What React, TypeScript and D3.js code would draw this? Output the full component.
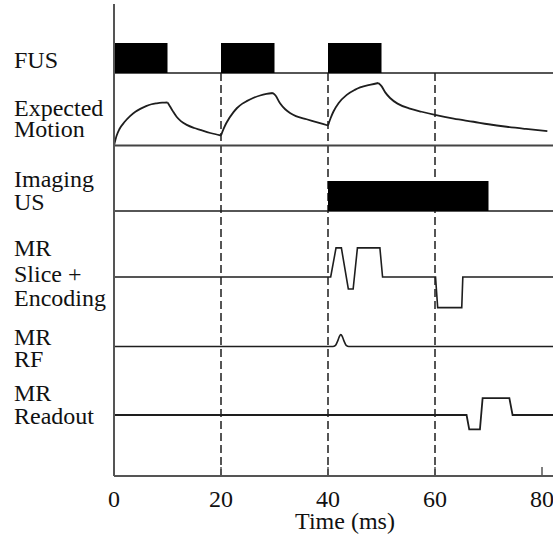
import React from "react";
import * as d3 from "d3";

// ---- data ----
const xTicks = [0, 20, 40, 60, 80];
const dashedTimes = [20, 40, 60];
const T_END = 82.1;

const fusPulses: [number, number][] = [[0, 10], [20, 30], [40, 50]];
const imagingPulses: [number, number][] = [[40, 70]];

// expected motion (normalized amplitude); corners mark kinks in the curve
const motion: [number, number][] = [
  [0, 0], [0.5, 0.16], [1, 0.26], [2, 0.38], [3, 0.47], [4, 0.54], [5, 0.59], [6, 0.63], [7, 0.66], [8, 0.675], [9, 0.685], [10, 0.69],
  [10.5, 0.62], [11, 0.55], [11.7, 0.46], [12.5, 0.39], [13.6, 0.33], [15, 0.28], [16.1, 0.25], [18, 0.2], [20, 0.16],
  [20.5, 0.27], [21, 0.36], [22.3, 0.53], [23, 0.6], [24, 0.67], [24.8, 0.71], [26, 0.76], [27.3, 0.8], [28.5, 0.825], [29.7, 0.84],
  [30.2, 0.8], [31, 0.68], [32, 0.58], [32.9, 0.52], [34, 0.47], [36, 0.42], [38, 0.37], [40, 0.32],
  [40.5, 0.44], [41, 0.54], [42, 0.68], [43.5, 0.81], [45, 0.89], [46, 0.93], [48, 0.975], [49.4, 1.0],
  [50, 0.95], [50.7, 0.85], [51.6, 0.76], [53, 0.67], [55.3, 0.59], [57.5, 0.54], [60, 0.49], [63.5, 0.43], [67.2, 0.38], [70, 0.34], [73.4, 0.3], [77, 0.265], [81, 0.23],
];
const motionCorners = [10, 20, 29.7, 40, 49.4];

const slice: [number, number][] = [
  [0, 0], [40.5, 0], [41.5, 0.97], [42.5, 0.97], [43.8, -0.4], [44.7, -0.4], [45.5, 0.97], [49.7, 0.97], [50.2, 0],
  [60.1, 0], [60.5, -1.02], [65.0, -1.02], [65.2, 0], [T_END, 0],
];
const rf: [number, number][] = [
  [0, 0], [40.9, 0], [41.4, 0.04], [41.8, 0.18], [42.1, 0.32], [42.4, 0.4], [42.7, 0.32], [43.0, 0.18], [43.4, 0.04], [43.9, 0], [T_END, 0],
];
const readout: [number, number][] = [
  [0, 0], [65.9, 0], [66.4, -0.48], [68.4, -0.48], [68.9, 0.56], [73.9, 0.56], [74.5, 0], [T_END, 0],
];

const labels: { lines: string[]; baselines: number[] }[] = [
  { lines: ["FUS"], baselines: [67.5] },
  { lines: ["Expected", "Motion"], baselines: [115.5, 136.5] },
  { lines: ["Imaging", "US"], baselines: [187, 210] },
  { lines: ["MR", "Slice +", "Encoding"], baselines: [256, 282, 306] },
  { lines: ["MR", "RF"], baselines: [345, 367] },
  { lines: ["MR", "Readout"], baselines: [401, 424] },
];

// ---- layout ----
const W = 553;
const H = 537;
const x = d3.scaleLinear().domain([0, 80]).range([114, 542]);
const axisY = 476;
const axisTop = 4;

const fusY = d3.scaleLinear().domain([0, 1]).range([73, 43]);
const motionY = d3.scaleLinear().domain([0, 1]).range([145.5, 83]);
const imagingY = d3.scaleLinear().domain([0, 1]).range([211, 181]);
const sliceY = d3.scaleLinear().domain([0, 1]).range([277, 247]);
const rfY = d3.scaleLinear().domain([0, 1]).range([346.5, 316.5]);
const readoutY = d3.scaleLinear().domain([0, 1]).range([415, 385]);

const FS = 24;
const INK = "#1e1e1e";
const textStyle: React.CSSProperties = { fontFamily: "'Liberation Serif', 'Times New Roman', serif", fontSize: FS };

function motionPath(): string {
  const segs: [number, number][][] = [];
  let cur: [number, number][] = [];
  motion.forEach((p) => {
    cur.push(p);
    if (motionCorners.includes(p[0])) {
      segs.push(cur);
      cur = [p];
    }
  });
  if (cur.length > 1) segs.push(cur);
  const line = d3
    .line<[number, number]>()
    .x((d) => x(d[0]))
    .y((d) => motionY(d[1]))
    .curve(d3.curveMonotoneX);
  return segs.map((s) => line(s) || "").join("");
}

function stepPath(data: [number, number][], y: d3.ScaleLinear<number, number>, curve = d3.curveLinear): string {
  return (
    d3
      .line<[number, number]>()
      .x((d) => x(d[0]))
      .y((d) => y(d[1]))
      .curve(curve)(data) || ""
  );
}

export default function App() {
  return (
    <svg
      width={W}
      height={H}
      viewBox={`0 0 ${W} ${H}`}
      style={{ position: "absolute", left: 0, top: 0, background: "#fff" }}
    >
      <rect x={0} y={0} width={W} height={H} fill="#fff" />

      {labels.map((l, i) =>
        l.lines.map((t, j) => (
          <text key={`${i}-${j}`} x={14} y={l.baselines[j]} style={textStyle} fill="#111">
            {t}
          </text>
        ))
      )}

      {dashedTimes.map((t) => (
        <line key={t} x1={x(t)} x2={x(t)} y1={fusY(0)} y2={axisY} stroke={INK} strokeWidth={1.5} strokeDasharray="8,4" />
      ))}

      <line x1={x(0)} x2={W} y1={fusY(0)} y2={fusY(0)} stroke={INK} strokeWidth={1.6} />
      {fusPulses.map(([a, b]) => (
        <rect key={a} x={x(a)} y={fusY(1)} width={x(b) - x(a)} height={fusY(0) - fusY(1)} fill="#000" />
      ))}

      <line x1={x(0)} x2={W} y1={motionY(0)} y2={motionY(0)} stroke="#444" strokeWidth={1.8} />
      <path d={motionPath()} fill="none" stroke={INK} strokeWidth={1.8} />

      <line x1={x(0)} x2={W} y1={imagingY(0)} y2={imagingY(0)} stroke={INK} strokeWidth={1.6} />
      {imagingPulses.map(([a, b]) => (
        <rect key={a} x={x(a)} y={imagingY(1)} width={x(b) - x(a)} height={imagingY(0) - imagingY(1)} fill="#000" />
      ))}

      <path d={stepPath(slice, sliceY)} fill="none" stroke={INK} strokeWidth={1.6} />
      <path d={stepPath(rf, rfY, d3.curveMonotoneX)} fill="none" stroke={INK} strokeWidth={1.6} />
      <path d={stepPath(readout, readoutY)} fill="none" stroke={INK} strokeWidth={1.8} />

      <line x1={x(0)} x2={x(0)} y1={axisTop} y2={axisY} stroke="#555" strokeWidth={2} />
      <line x1={x(0)} x2={W} y1={axisY} y2={axisY} stroke="#555" strokeWidth={2} />
      {xTicks.map((t) => (
        <g key={t}>
          <line x1={x(t)} x2={x(t)} y1={axisY} y2={axisY - 9} stroke="#555" strokeWidth={1.5} />
          <text x={x(t)} y={506.5} textAnchor="middle" style={textStyle} fill="#111">
            {t}
          </text>
        </g>
      ))}
      <text x={345} y={529} textAnchor="middle" style={textStyle} fill="#111">
        Time (ms)
      </text>
    </svg>
  );
}
